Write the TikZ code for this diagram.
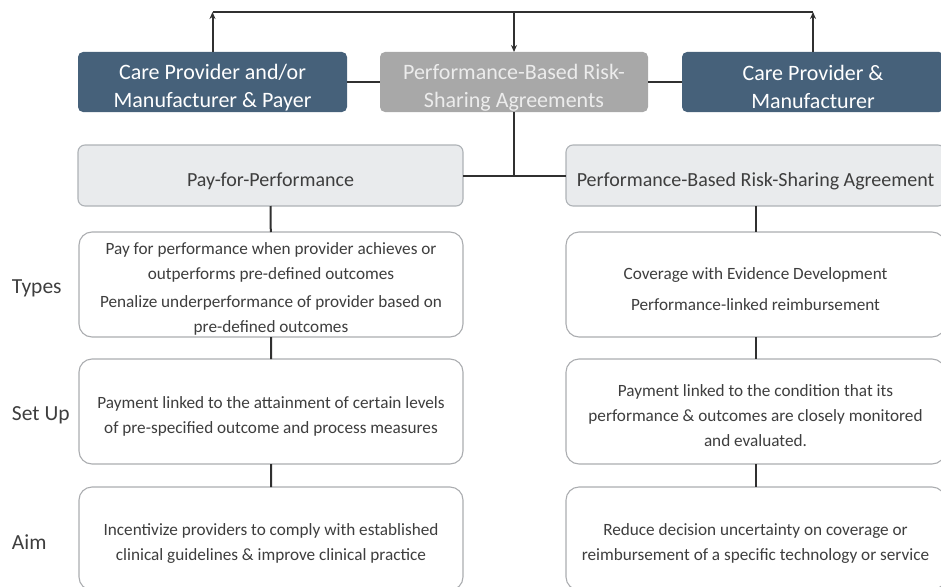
\documentclass[tikz,border=0pt]{standalone}
\usepackage{fontspec}
\setmainfont{Carlito}
\usetikzlibrary{arrows.meta}
\definecolor{partyblue}{HTML}{46617A}
\definecolor{hubgrey}{HTML}{A8A8A8}
\definecolor{hubtext}{HTML}{ECECEC}
\definecolor{headfill}{HTML}{E9EBED}
\definecolor{headline}{HTML}{AEB2B6}
\definecolor{boxline}{HTML}{ABADB0}
\definecolor{bodytext}{HTML}{3E3E3E}
\definecolor{linkgrey}{HTML}{303030}
\newcommand\padtop[1]{\rule{0pt}{#1}}

\begin{document}
\begin{tikzpicture}[x=1pt, y=-1pt,
  every node/.style={outer sep=0pt, inner sep=0pt},
  party/.style={rounded corners=5pt, fill=partyblue, text=white, minimum height=60pt, align=center, font=\fontsize{22}{28}\selectfont},
  hub/.style={party, fill=hubgrey, text=hubtext},
  scheme/.style={draw=headline, line width=1.1pt, rounded corners=7pt, fill=headfill, text=bodytext, minimum height=61pt, font=\fontsize{20}{24}\selectfont},
  detail/.style={draw=boxline, line width=1.1pt, rounded corners=13pt, fill=white, text=bodytext, align=center, font=\fontsize{17.2}{25}\selectfont},
  rowlabel/.style={anchor=west, text=bodytext, font=\fontsize{21.5}{25}\selectfont},
  link/.style={draw=linkgrey, line width=2pt},
  >={Stealth[length=7pt, width=6pt]}]
\useasboundingbox (0,0) rectangle (941,586);

\node[party, minimum width=269pt] (payer) at (212.5,82) {\padtop{26pt}Care Provider and/or\\Manufacturer \& Payer};
\node[hub, minimum width=268pt] (prbsa) at (514,82) {\padtop{26pt}Performance-Based Risk-\\Sharing Agreements};
\node[party, minimum width=262pt] (maker) at (813,82) {\padtop{26pt}Care Provider \&\\Manufacturer};
\coordinate (top) at (514,12);

\node[scheme, minimum width=385pt] (pfp) at (270.5,175.5) {\padtop{25pt}Pay-for-Performance};
\node[scheme, minimum width=379pt] (rsa) at (755.5,175.5) {\padtop{25pt}Performance-Based Risk-Sharing Agreement};

\node[detail, minimum width=384pt, minimum height=105pt] (pfp-types) at (271,284.5)
  {\padtop{21pt}Pay for performance when provider achieves or\\outperforms pre-defined outcomes\\[3pt]Penalize underperformance of provider based on\\pre-defined outcomes};
\node[detail, minimum width=384pt, minimum height=105pt] (pfp-setup) at (271,411.5)
  {\padtop{21pt}Payment linked to the attainment of certain levels\\of pre-specified outcome and process measures};
\node[detail, minimum width=384pt, minimum height=103pt] (pfp-aim) at (271,538.5)
  {\padtop{21pt}Incentivize providers to comply with established\\clinical guidelines \& improve clinical practice};

\node[detail, minimum width=379pt, minimum height=105pt] (rsa-types) at (755.5,284.5)
  {\padtop{21pt}Coverage with Evidence Development\\[6pt]Performance-linked reimbursement};
\node[detail, minimum width=379pt, minimum height=105pt] (rsa-setup) at (755.5,411.5)
  {\padtop{21pt}Payment linked to the condition that its\\performance \& outcomes are closely monitored\\and evaluated.};
\node[detail, minimum width=379pt, minimum height=103pt] (rsa-aim) at (755.5,538.5)
  {\padtop{21pt}Reduce decision uncertainty on coverage or\\reimbursement of a specific technology or service};

\foreach \tag/\lab/\y in {types/Types/288, setup/Set Up/415, aim/Aim/542}
  \node[rowlabel] (row-\tag) at (12,\y) {\lab};

\draw[link,->] (payer.north) -- (payer.north |- top);
\draw[link] (payer.north |- top) -- (maker.north |- top);
\draw[link,->] (top) -- (prbsa.north);
\draw[link,->] (maker.north) -- (maker.north |- top);
\draw[link] (payer) -- (prbsa) -- (maker);

\draw[link] (prbsa.south) -- (prbsa.south |- pfp.east);
\draw[link] (pfp) -- (rsa);
\draw[link] (pfp) -- (pfp-types) -- (pfp-setup) -- (pfp-aim);
\draw[link] (rsa) -- (rsa-types) -- (rsa-setup) -- (rsa-aim);
\end{tikzpicture}
\end{document}
